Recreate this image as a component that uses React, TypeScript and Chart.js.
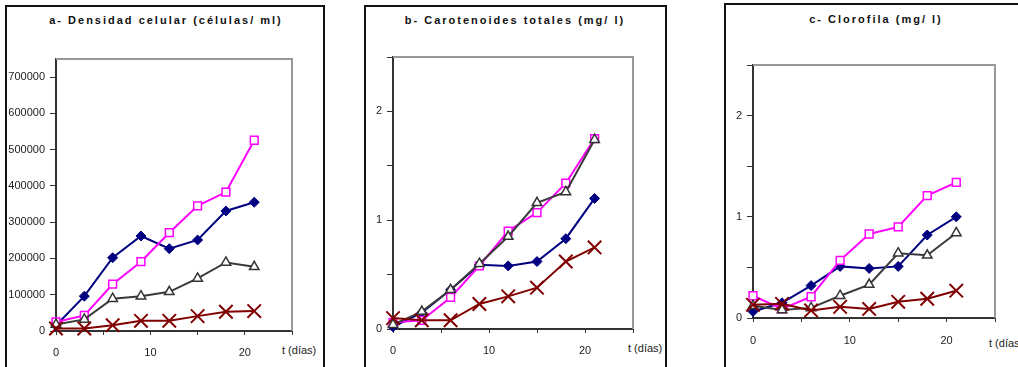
import React, { useEffect, useRef } from 'react';
import { Chart, registerables } from 'chart.js';

Chart.register(...registerables);

// ---- data ----
const days = [0, 3, 6, 9, 12, 15, 18, 21];

// a- Densidad celular (células/ ml)
const densBlue = [15000, 96000, 202000, 262000, 227000, 251000, 331000, 355000];
const densPink = [25000, 43000, 129000, 191000, 271000, 345000, 383000, 526000];
const densGray = [18000, 32000, 89000, 96000, 108000, 145000, 189000, 177000];
const densRed = [7000, 7000, 16000, 28000, 28000, 41000, 53000, 55000];
const densTicks = [0, 100000, 200000, 300000, 400000, 500000, 600000, 700000];

// b- Carotenoides totales (mg/ l)
const carBlue = [0.02, 0.15, 0.36, 0.59, 0.58, 0.62, 0.83, 1.2];
const carPink = [0.06, 0.08, 0.29, 0.58, 0.9, 1.07, 1.34, 1.75];
const carGray = [0.04, 0.16, 0.36, 0.6, 0.85, 1.16, 1.26, 1.74];
const carRed = [0.1, 0.08, 0.08, 0.23, 0.3, 0.38, 0.62, 0.75];

// c- Clorofila (mg/ l)
const cloBlue = [0.065, 0.15, 0.32, 0.51, 0.49, 0.51, 0.82, 1.0];
const cloPink = [0.22, 0.09, 0.21, 0.57, 0.83, 0.9, 1.21, 1.34];
const cloGray = [0.12, 0.08, 0.1, 0.22, 0.33, 0.64, 0.62, 0.84];
const cloRed = [0.13, 0.14, 0.075, 0.11, 0.09, 0.16, 0.19, 0.27];

const mgTicks = [0, 0.5, 1, 1.5, 2, 2.5];
const mgLabeled = [0, 1, 2];

const titles = [
  'a- Densidad celular (células/ ml)',
  'b- Carotenoides totales (mg/ l)',
  'c- Clorofila (mg/ l)',
];
const xAxisLabel = 't (días)';
const xTicks = [0, 5, 10, 15, 20, 25];
const xLabeled = [0, 10, 20];

const W = 1018;
const H = 367;
const YW = 50;
const XH = 30;
const FONT = "'Liberation Sans', Arial, sans-serif";

type PanelCfg = {
  L: number; T: number; R: number; B: number;
  yMax: number; yTicks: number[];
  yLabel: (v: number) => string;
  xPad: number;
  blue: number[]; pink: number[]; gray: number[]; red: number[];
};

const panels: PanelCfg[] = [
  {
    L: 56, T: 59, R: 292, B: 331, yMax: 750000, yTicks: densTicks,
    yLabel: (v) => String(v), xPad: 11,
    blue: densBlue, pink: densPink, gray: densGray, red: densRed,
  },
  {
    L: 393, T: 57, R: 633, B: 329, yMax: 2.5, yTicks: mgTicks,
    yLabel: (v) => (mgLabeled.includes(v) ? String(v) : ''), xPad: 11,
    blue: carBlue, pink: carPink, gray: carGray, red: carRed,
  },
  {
    L: 753, T: 65, R: 995, B: 318, yMax: 2.5, yTicks: mgTicks,
    yLabel: (v) => (mgLabeled.includes(v) ? String(v) : ''), xPad: 12,
    blue: cloBlue, pink: cloPink, gray: cloGray, red: cloRed,
  },
];

const pts = (vals: number[]) => days.map((d, i) => ({ x: d, y: vals[i] }));

const framePlugin = {
  id: 'frameTopRight',
  beforeDatasetsDraw(chart: any) {
    const { ctx, chartArea } = chart;
    const { left, top, right, bottom } = chartArea;
    ctx.save();
    ctx.strokeStyle = '#999999';
    ctx.lineWidth = 2;
    ctx.beginPath();
    ctx.moveTo(left, top);
    ctx.lineTo(right, top);
    ctx.lineTo(right, bottom);
    ctx.stroke();
    ctx.restore();
  },
};

function PanelChart({ cfg }: { cfg: PanelCfg }) {
  const ref = useRef<HTMLCanvasElement | null>(null);
  useEffect(() => {
    if (!ref.current) return;
    const tickFont = { family: FONT, size: 11 };
    const chart = new Chart(ref.current, {
      type: 'line',
      data: {
        datasets: [
          {
            data: pts(cfg.red), borderColor: '#800000', borderWidth: 2,
            pointStyle: 'crossRot', pointRadius: 9.5, pointBorderWidth: 2,
            pointBorderColor: '#800000', pointBackgroundColor: '#800000', clip: false,
          },
          {
            data: pts(cfg.gray), borderColor: '#3a3a3a', borderWidth: 2,
            pointStyle: 'triangle', pointRadius: 5.5, pointBorderWidth: 1.5,
            pointBorderColor: '#333333', pointBackgroundColor: '#ffffff', clip: false,
          },
          {
            data: pts(cfg.pink), borderColor: '#ff00ff', borderWidth: 2,
            pointStyle: 'rect', pointRadius: 5.5, pointBorderWidth: 1.5,
            pointBorderColor: '#ff00ff', pointBackgroundColor: '#ffffff', clip: false,
          },
          {
            data: pts(cfg.blue), borderColor: '#000080', borderWidth: 2,
            pointStyle: 'rectRot', pointRadius: 5, pointBorderWidth: 1,
            pointBorderColor: '#000080', pointBackgroundColor: '#000080', clip: false,
          },
        ] as any,
      },
      options: {
        responsive: false,
        animation: false,
        events: [],
        layout: {
          padding: { left: cfg.L - YW, top: cfg.T, right: W - cfg.R, bottom: H - cfg.B - XH },
        },
        plugins: {
          legend: { display: false },
          tooltip: { enabled: false },
          title: { display: false },
        },
        scales: {
          x: {
            type: 'linear', min: 0, max: 25,
            afterFit: (s: any) => { s.height = XH; },
            afterBuildTicks: (s: any) => { s.ticks = xTicks.map((v) => ({ value: v })); },
            ticks: {
              autoSkip: false, maxRotation: 0, color: '#222222',
              font: tickFont, padding: cfg.xPad,
              callback: (v: any) => (xLabeled.includes(Number(v)) ? String(v) : ''),
            },
            grid: { drawOnChartArea: false, drawTicks: true, tickLength: 4, color: '#333333', lineWidth: 1 },
            border: { display: true, color: '#333333', width: 2 },
          },
          y: {
            type: 'linear', min: 0, max: cfg.yMax,
            afterFit: (s: any) => { s.width = YW; },
            afterBuildTicks: (s: any) => { s.ticks = cfg.yTicks.map((v) => ({ value: v })); },
            ticks: {
              autoSkip: false, color: '#222222', font: tickFont, padding: 5,
              callback: (v: any) => cfg.yLabel(Number(v)),
            },
            grid: { drawOnChartArea: false, drawTicks: true, tickLength: 6, color: '#333333', lineWidth: 1 },
            border: { display: true, color: '#333333', width: 2 },
          },
        },
      } as any,
      plugins: [framePlugin],
    });
    return () => chart.destroy();
  }, [cfg]);
  return (
    <canvas
      ref={ref}
      width={W}
      height={H}
      style={{ position: 'absolute', left: 0, top: 0, width: W, height: H }}
    />
  );
}

const boxStyle = (left: number, top: number, width: number): React.CSSProperties => ({
  position: 'absolute', left, top, width, height: 420, boxSizing: 'border-box',
  borderTop: '2px solid #111', borderLeft: '2px solid #111', borderRight: '2px solid #111',
});

const titleStyle = (cx: number): React.CSSProperties => ({
  position: 'absolute', left: cx - 150, top: 14, width: 300, textAlign: 'center',
  font: `bold 11px ${FONT}`, lineHeight: '13px', letterSpacing: '2px', paddingLeft: 2,
  color: '#111', whiteSpace: 'nowrap', boxSizing: 'border-box',
});

const axisLabelStyle = (left: number, top: number): React.CSSProperties => ({
  position: 'absolute', left, top, font: `11px ${FONT}`, lineHeight: '13px',
  color: '#222', whiteSpace: 'nowrap',
});

export default function App() {
  return (
    <div style={{ position: 'absolute', left: 0, top: 0, width: W, height: H, overflow: 'hidden', background: '#fff' }}>
      <div style={boxStyle(5, 5, 320)} />
      <div style={boxStyle(364, 5, 303)} />
      <div style={boxStyle(724, 3, 400)} />
      <div style={titleStyle(165)}>{titles[0]}</div>
      <div style={titleStyle(514)}>{titles[1]}</div>
      <div style={{ ...titleStyle(875), top: 13 }}>{titles[2]}</div>
      <div style={axisLabelStyle(282, 344)}>{xAxisLabel}</div>
      <div style={axisLabelStyle(628, 342)}>{xAxisLabel}</div>
      <div style={axisLabelStyle(989, 337)}>{xAxisLabel}</div>
      {panels.map((p, i) => (
        <PanelChart key={i} cfg={p} />
      ))}
    </div>
  );
}
